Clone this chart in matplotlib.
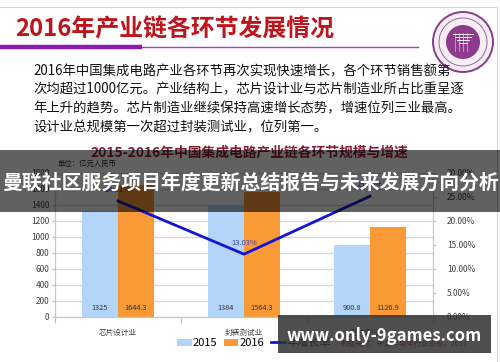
import numpy as np
import matplotlib
matplotlib.use('Agg')
import matplotlib.pyplot as plt
from matplotlib.patches import Circle, Rectangle
from matplotlib.ticker import FuncFormatter

plt.rcParams['font.family'] = ['Noto Sans CJK SC', 'DejaVu Sans']

# dados do grafico
categories = ['芯片设计业', '封装测试业', '芯片制造业']
sales_2015 = [1325, 1384, 900.8]
sales_2016 = [1644.3, 1564.3, 1126.9]
growth = [24.11, 13.03, 25.10]  # %
series_names = ['2015', '2016', '年增长率']

slide_title = '2016年产业链各环节发展情况'
body_lines = [
    '2016年中国集成电路产业各环节再次实现快速增长，各个环节销售额第',
    '次均超过1000亿元。产业结构上，芯片设计业与芯片制造业所占比重呈逐',
    '年上升的趋势。芯片制造业继续保持高速增长态势，增速位列三业最高。',
    '设计业总规模第一次超过封装测试业，位列第一。',
]
chart_title = '2015-2016年中国集成电路产业链各环节规模与增速'
unit_text = '单位：亿元人民币'
source_text = '数据来源：中国半导体行业协会，2017'
banner_text = '曼联社区服务项目年度更新总结报告与未来发展方向分析'
site_text = 'www.only-9games.com'

W, H = 500, 362
c15 = '#b2d5f9'
c16 = '#fa9a37'
cline = '#1414d8'
maroon = '#8c1a2e'

fig = plt.figure(figsize=(W / 100, H / 100), dpi=100)

# fundo do slide (coordenadas em pixels)
bg = fig.add_axes([0, 0, 1, 1], zorder=0)
bg.set_xlim(0, W)
bg.set_ylim(H, 0)
bg.axis('off')

bg.plot([0, 497], [7, 7], color='#d6d6d6', lw=0.8)
bg.plot([497, 497], [7, H], color='#d6d6d6', lw=0.8)
bg.text(15, 29, slide_title, fontsize=17.2, color='#c0141c', fontweight='bold', va='center')
bg.plot([0, 418], [46.5, 46.5], color='#a43fc8', lw=1.0)
bg.plot([0, 142], [47, 47], color='#8c1cb0', lw=3.2, solid_capstyle='butt')

# logo
bg.add_patch(Circle((463, 42), 30, fc='#f7eff7', ec='#8e3b8e', lw=1.4))
bg.add_patch(Circle((463, 42), 24, fill=False, ec='#a060a0', lw=0.7))
bg.add_patch(Circle((463, 42), 17, fc='#8e3b8e', ec='none'))
for k in range(4):
    bg.plot([453 + k * 2, 473 - k * 2], [34 + k * 3, 34 + k * 3], color='white', lw=0.7)
    bg.plot([455 + k * 4, 455 + k * 4], [33, 51], color='#f0d8f0', lw=0.4)

for i, line in enumerate(body_lines):
    bg.text(33, 71 + i * 18.7, line, fontsize=9.6, color='#111111', va='center')

bg.text(249, 153, chart_title, fontsize=9.9, color=maroon, fontweight='bold', ha='center', va='center')
bg.text(58, 164, unit_text, fontsize=5.3, color='#333333', va='center')
bg.text(341, 344, source_text, fontsize=5.3, color='#8b2040', va='center')

# grafico
ax = fig.add_axes([55 / W, 1 - 316.7 / H, 378 / W, 144 / H], zorder=1)
x = np.arange(len(categories))
w = 0.286
b1 = ax.bar(x - w / 2, sales_2015, w, color=c15, zorder=2)
b2 = ax.bar(x + w / 2, sales_2016, w, color=c16, zorder=2)
for xs, vals in ((x - w / 2, sales_2015), (x + w / 2, sales_2016)):
    for xi, v in zip(xs, vals):
        ax.text(xi, 110, f'{v:g}', ha='center', va='center', fontsize=5.3, color='#333333', zorder=3)

ax.set_xlim(-0.5, 2.5)
ax.set_ylim(0, 1800)
ax.set_yticks(np.arange(0, 1801, 200))
ax.grid(axis='y', color='#d9d9d9', lw=1.0, zorder=0)
ax.set_axisbelow(True)
ax.set_xticks([-0.5, 0.5, 1.5, 2.5])
ax.set_xticklabels([])
ax.set_xticks(x, categories, minor=True)
ax.tick_params(axis='x', which='minor', length=0, pad=9, labelsize=5.5, labelcolor='#404040')
ax.tick_params(axis='x', which='major', length=4, color='#bfbfbf')
ax.tick_params(axis='y', length=2, color='#bfbfbf', labelsize=6, labelcolor='#404040', pad=2)
ax.spines['top'].set_visible(False)
for s in ('left', 'bottom', 'right'):
    ax.spines[s].set_color('#c8c8c8')

ax2 = ax.twinx()
ln, = ax2.plot(x, np.array(growth) / 100, color=cline, lw=2, zorder=4)
for xi, g in zip(x, growth):
    ax2.annotate(f'{g:.2f}%', (xi, g / 100), xytext=(0, 11), textcoords='offset pixels',
                 ha='center', va='center', fontsize=5.5, color='#4040c0')
ax2.set_ylim(0, 0.30)
ax2.set_yticks(np.arange(0, 0.301, 0.05))
ax2.yaxis.set_major_formatter(FuncFormatter(lambda v, p: f'{v * 100:.2f}%'))
ax2.tick_params(axis='y', length=2, color='#bfbfbf', labelsize=6, labelcolor='#404040', pad=8)
ax2.spines['top'].set_visible(False)
for s in ('left', 'bottom', 'right'):
    ax2.spines[s].set_color('#c8c8c8')

ax2.legend([b1, b2, ln], series_names, loc='center', bbox_to_anchor=(254 / W, 1 - 343 / H),
           bbox_transform=fig.transFigure, ncol=3, frameon=False, fontsize=8,
           handlelength=1.3, handleheight=0.6, handletextpad=0.1, columnspacing=0.6)

# faixas sobrepostas
fg = fig.add_axes([0, 0, 1, 1], zorder=10)
fg.set_xlim(0, W)
fg.set_ylim(H, 0)
fg.axis('off')
fg.add_patch(Rectangle((0, 150), W, 62, fc='black', alpha=0.62, ec='none'))
fg.text(250, 182, banner_text, fontsize=14.3, color='white', fontweight='bold', ha='center', va='center')
fg.add_patch(Rectangle((278, 315), 213, 38, fc='#303030', alpha=0.85, ec='none'))
fg.text(384, 336, site_text, fontsize=12, color='white', fontweight='bold', ha='center', va='center')

fig.savefig('out.png', dpi=100)
